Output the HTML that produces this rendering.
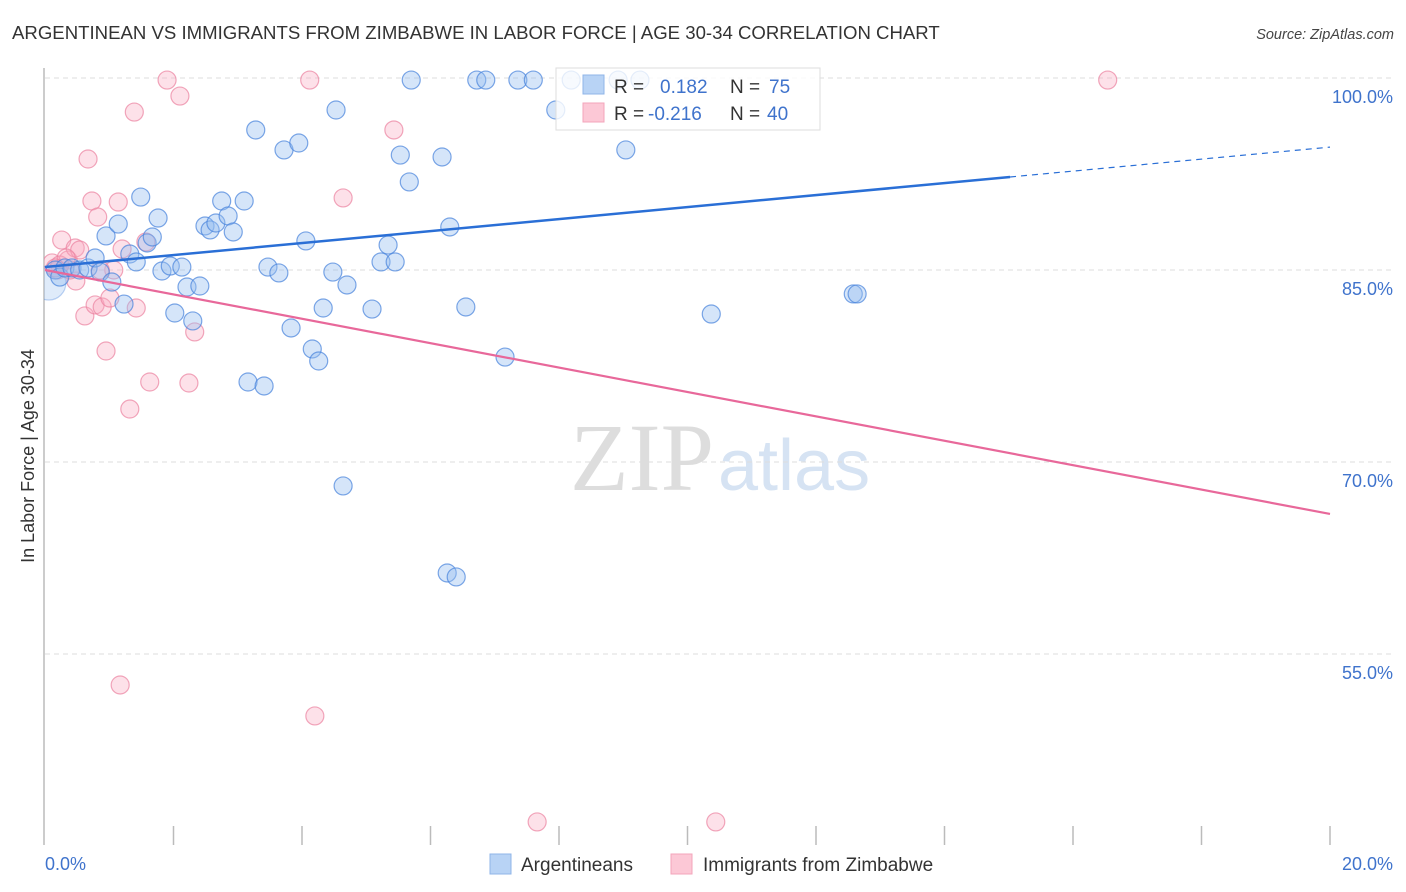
<!DOCTYPE html>
<html><head><meta charset="utf-8"><style>
body{margin:0;background:#fff;font-family:"Liberation Sans",sans-serif}
svg{display:block}
</style></head><body>
<svg id="chart" width="1406" height="892" xmlns="http://www.w3.org/2000/svg">
<defs><clipPath id="plotclip"><rect x="44" y="60" width="1360" height="790"/></clipPath></defs>
<text x="12" y="39" font-size="18.6" fill="#333">ARGENTINEAN VS IMMIGRANTS FROM ZIMBABWE IN LABOR FORCE | AGE 30-34 CORRELATION CHART</text>
<text x="1394" y="39" font-size="14.5" fill="#444" font-style="italic" text-anchor="end">Source: ZipAtlas.com</text>
<g><text x="714" y="490" font-family="Liberation Serif,serif" font-size="96" fill="#ddd" text-anchor="end">ZIP</text><text x="718" y="490" font-size="72" fill="#d6e3f3">atlas</text></g>
<g id="grid"></g>
<line x1="44" y1="68" x2="44" y2="845" stroke="#bbb" stroke-width="1.5"/>
<text transform="translate(34,456) rotate(-90)" font-size="18" fill="#333" text-anchor="middle">In Labor Force | Age 30-34</text>
<g id="pts" clip-path="url(#plotclip)"></g>
<g id="lines"></g>
<g>
<rect x="556" y="68" width="264" height="62" fill="rgba(255,255,255,0.8)" stroke="#ddd"/>
<rect x="583" y="75" width="21" height="19" fill="#b8d3f5" stroke="#8fb5e8"/>
<rect x="583" y="103" width="21" height="19" fill="#fcc8d6" stroke="#f3a5bb"/>
<text x="614" y="93" font-size="19" fill="#333">R = <tspan x="660" fill="#3f73cc">0.182</tspan><tspan x="730" fill="#333">N = </tspan><tspan x="769" fill="#3f73cc">75</tspan></text>
<text x="614" y="120" font-size="19" fill="#333">R = <tspan x="648" fill="#3f73cc">-0.216</tspan><tspan x="730" fill="#333">N = </tspan><tspan x="767" fill="#3f73cc">40</tspan></text>
</g>
<g>
<rect x="490" y="854" width="21" height="20" fill="#b8d3f5" stroke="#8fb5e8"/>
<text x="521" y="871" font-size="19" fill="#333">Argentineans</text>
<rect x="671" y="854" width="21" height="20" fill="#fcc8d6" stroke="#f3a5bb"/>
<text x="703" y="871" font-size="19" fill="#333">Immigrants from Zimbabwe</text>
</g>
</svg>
<script>
const yTicks=[100,85,70,55];
const xTickLabels=["0.0%","20.0%"];
const blueX=[0.06,0.16,0.23,0.31,0.42,0.54,0.67,0.78,0.86,0.95,1.04,1.14,1.23,1.32,1.42,1.49,1.59,1.67,1.76,1.82,1.95,2.02,2.13,2.21,2.30,2.41,2.49,2.57,2.66,2.75,2.85,2.93,3.10,3.16,3.28,3.41,3.47,3.64,3.72,3.83,3.95,4.06,4.16,4.26,4.33,4.48,4.53,4.64,4.70,5.09,5.23,5.34,5.45,5.53,5.67,5.70,6.18,6.26,6.30,6.40,6.55,6.72,6.86,7.16,7.36,7.60,7.95,8.19,8.92,9.26,9.04,10.37,12.58,12.64];
const blueY=[83.98,85.0,84.45,85.16,85.16,85.0,85.16,85.94,84.84,87.66,84.06,88.59,82.34,86.25,85.63,90.7,87.11,87.58,89.06,84.92,85.31,81.64,85.23,83.67,81.02,83.75,88.44,88.13,88.67,90.39,89.22,87.97,90.39,76.25,95.94,75.94,85.23,84.77,94.38,80.47,94.92,87.27,78.83,77.89,82.03,84.84,97.5,68.13,83.83,81.95,85.63,86.95,85.63,93.98,91.88,99.84,93.83,61.33,88.36,61.02,82.11,99.84,99.84,78.2,99.84,99.84,97.5,99.84,99.84,99.84,94.38,81.56,83.13,83.13];
const pinkX=[0.11,0.20,0.26,0.36,0.47,0.54,0.48,0.62,0.67,0.73,0.78,0.82,0.89,0.95,1.01,1.07,1.14,1.20,1.39,1.32,1.42,1.57,1.63,1.90,2.10,2.24,2.33,1.17,4.12,4.20,4.64,5.43,7.66,10.44,16.54,0.39,0.23,0.33,0.86,0.16];
const pinkY=[85.55,85.0,87.34,85.78,86.72,86.56,84.14,81.41,93.67,90.39,82.27,89.14,82.11,78.67,82.81,85.0,90.31,86.64,97.34,74.14,82.03,87.19,76.25,99.84,98.59,76.17,80.16,52.58,99.84,50.16,90.63,95.94,41.88,41.88,99.84,85.0,85.39,85.94,85.0,85.16];
const blueTrend=[85.23,94.6], blueSolidEnd=15.02;
const pinkTrend=[85.0,65.94];
const NS="http://www.w3.org/2000/svg";
const X=v=>45+v/20*1285, Y=v=>78+(100-v)*12.8;
function mk(tag,attrs,parent){const e=document.createElementNS(NS,tag);for(const k in attrs)e.setAttribute(k,attrs[k]);parent.appendChild(e);return e;}
const grid=document.getElementById('grid'),pts=document.getElementById('pts'),lines=document.getElementById('lines');
yTicks.forEach(t=>{
 const l=mk('line',{x1:45,x2:1393,y1:Y(t),y2:Y(t),stroke:'#ddd','stroke-dasharray':'5,4'},grid);
 
 
 const tx=mk('text',{x:1393,y:Y(t)+25,'font-size':18,fill:'#3f73cc','text-anchor':'end'},grid);
 tx.textContent=t.toFixed(1)+'%';
 
 
});
for(let i=1;i<=10;i++){
 const x=X(i*2);
 const l=mk('line',{x1:x,x2:x,y1:826,y2:845,stroke:'#bbb','stroke-width':1.5},grid);
 
 
}
xTickLabels.forEach((s,i)=>{
 const tx=mk('text',{x:i?1393:45,y:870,'font-size':18,fill:'#3f73cc','text-anchor':i?'end':'start'},grid);
 tx.textContent=s;
 
 
});
pinkX.forEach((v,i)=>{
 const c=mk('circle',{cx:X(v),cy:Y(pinkY[i]),r:9,fill:'rgba(248,170,192,0.35)',stroke:'rgba(235,130,160,0.7)','stroke-width':1.2},pts);
 
 
});
blueX.forEach((v,i)=>{
 const c=mk('circle',{cx:X(v),cy:Y(blueY[i]),r:i===0?17:9,fill:i===0?'rgba(150,190,240,0.3)':'rgba(150,190,240,0.4)',stroke:i===0?'rgba(70,130,220,0.35)':'rgba(70,130,220,0.7)','stroke-width':1.2},pts);
 
 
});
const by=x=>blueTrend[0]+(blueTrend[1]-blueTrend[0])*x/20;
let l=mk('line',{x1:X(0),y1:Y(by(0)),x2:X(blueSolidEnd),y2:Y(by(blueSolidEnd)),stroke:'#2a6fd6','stroke-width':2.5},lines);


l=mk('line',{x1:X(blueSolidEnd),y1:Y(by(blueSolidEnd)),x2:X(20),y2:Y(by(20)),stroke:'#2a6fd6','stroke-width':1.2,'stroke-dasharray':'6,5'},lines);


l=mk('line',{x1:X(0),y1:Y(pinkTrend[0]),x2:X(20),y2:Y(pinkTrend[1]),stroke:'#e8689a','stroke-width':2.2},lines);


</script>
</body></html>
